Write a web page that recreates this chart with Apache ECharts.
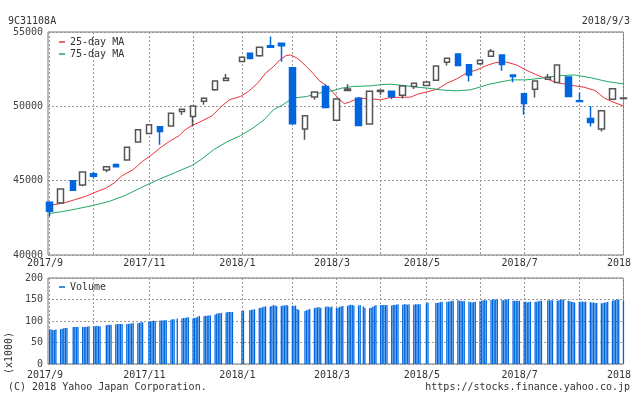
<!DOCTYPE html>
<html><head><meta charset="utf-8">
<script src="https://cdn.jsdelivr.net/npm/echarts@6/dist/echarts.min.js"></script>
<style>html,body{margin:0;padding:0;background:#fff}#c{width:634px;height:394px}</style>
</head><body><div id="c"></div>
<script>
// ---------- data ----------
const startDate = '2017-09-03';
const endDate = '2018-09-03';
const gridDates = ['2017-09-04','2017-10-02','2017-11-06','2017-12-04','2018-01-04','2018-02-05','2018-03-05','2018-04-02','2018-05-01','2018-06-04','2018-07-02','2018-08-06','2018-09-03'];
const labelDates = ['2017-09-04','2017-11-06','2018-01-04','2018-03-05','2018-05-01','2018-07-02','2018-09-03'];
// the last label is cut by the right edge of the picture in the original
const labelTexts = ['2017/9','2017/11','2018/1','2018/3','2018/5','2018/7','2018'];

const candleDates = ['2017-09-04','2017-09-11','2017-09-19','2017-09-25','2017-10-02','2017-10-10','2017-10-16','2017-10-23','2017-10-30','2017-11-06','2017-11-13','2017-11-20','2017-11-27','2017-12-04','2017-12-11','2017-12-18','2017-12-25','2018-01-04','2018-01-09','2018-01-15','2018-01-22','2018-01-29','2018-02-05','2018-02-13','2018-02-19','2018-02-26','2018-03-05','2018-03-12','2018-03-19','2018-03-26','2018-04-02','2018-04-09','2018-04-16','2018-04-23','2018-05-01','2018-05-07','2018-05-14','2018-05-21','2018-05-28','2018-06-04','2018-06-11','2018-06-18','2018-06-25','2018-07-02','2018-07-09','2018-07-17','2018-07-23','2018-07-30','2018-08-06','2018-08-13','2018-08-20','2018-08-27','2018-09-03'];
const opens  = [43545,43500,45000,44710,45470,45720,46090,46390,47600,48180,48630,48670,49650,49320,50350,51110,51740,53010,53570,53410,54080,54240,52600,48470,50620,51330,49070,51060,50550,48810,50990,51020,50750,51330,51400,51760,52970,53520,52790,52870,53370,53460,52110,50840,51155,51830,51600,51980,50370,49180,48470,50480,50530];
const closes = [42940,44440,44350,45585,45290,45940,45940,47240,48420,48760,48310,49540,49810,50030,50550,51710,51890,53300,53210,53970,53970,54080,48830,49360,50970,49920,50500,51170,48710,51020,51090,50660,51360,51560,51645,52720,53235,52740,52110,53100,53705,52810,52000,50190,51710,51960,52785,50660,50320,48910,49700,51175,50560];
const lows   = [42600,43480,44330,44620,45150,45560,45880,46380,47590,48150,47420,48660,49410,48650,50100,51040,51720,53000,53200,53340,53960,53000,48820,47750,50440,49910,49060,51050,48700,48800,50770,50480,50520,51170,51390,51750,52740,52730,51670,52790,53360,52400,51620,49430,50590,51820,51590,50650,50310,48645,48310,50470,50520];
const highs  = [43560,44460,45020,45600,45600,45950,46150,47250,48430,48770,48650,49550,49830,50050,50570,51720,52180,53310,53580,53980,54690,54260,52610,49370,50980,51490,50510,51490,50620,51030,51100,51030,51370,51570,51650,52730,53250,53530,52800,53110,53860,53470,52120,50850,51720,52180,52790,51990,50930,50030,49710,51180,50570];

const ma25Dates = ['2017-09-04','2017-09-13','2017-09-20','2017-09-27','2017-10-03','2017-10-10','2017-10-15','2017-10-20','2017-10-27','2017-11-02','2017-11-08','2017-11-13','2017-11-19','2017-11-25','2017-11-29','2017-12-03','2017-12-09','2017-12-16','2017-12-22','2017-12-27','2018-01-03','2018-01-08','2018-01-14','2018-01-19','2018-01-24','2018-01-28','2018-02-01','2018-02-04','2018-02-08','2018-02-11','2018-02-14','2018-02-18','2018-02-22','2018-02-26','2018-03-03','2018-03-06','2018-03-10','2018-03-14','2018-03-19','2018-03-27','2018-04-02','2018-04-08','2018-04-21','2018-04-26','2018-05-02','2018-05-08','2018-05-14','2018-05-20','2018-05-27','2018-06-02','2018-06-08','2018-06-14','2018-06-21','2018-06-27','2018-07-03','2018-07-09','2018-07-15','2018-07-22','2018-07-28','2018-08-03','2018-08-09','2018-08-16','2018-08-22','2018-08-28','2018-09-03'];
const ma25 = [43340,43500,43720,43950,44220,44510,44850,45340,45740,46300,46750,47200,47640,48020,48420,48690,48980,49360,49990,50440,50660,50990,51560,52230,52670,53120,53410,53460,53240,52970,52670,52230,51730,51440,50930,50550,50170,50320,50550,50500,50440,50590,50620,50840,50990,51160,51560,51830,52270,52450,52740,52940,52970,52790,52450,52160,51890,51620,51490,51380,51290,51060,50550,50260,50030];

const ma75Dates = ['2017-09-04','2017-09-13','2017-09-21','2017-10-02','2017-10-12','2017-10-22','2017-11-02','2017-11-12','2017-11-23','2017-12-03','2017-12-09','2017-12-17','2017-12-26','2018-01-03','2018-01-11','2018-01-18','2018-01-24','2018-01-30','2018-02-05','2018-02-14','2018-02-22','2018-03-03','2018-03-08','2018-03-15','2018-03-27','2018-04-02','2018-04-08','2018-04-17','2018-04-25','2018-05-04','2018-05-12','2018-05-20','2018-05-29','2018-06-04','2018-06-10','2018-06-18','2018-06-24','2018-07-03','2018-07-13','2018-07-23','2018-08-03','2018-08-13','2018-08-24','2018-09-03'];
const ma75 = [42790,42940,43100,43340,43610,44010,44580,45070,45560,46010,46410,47080,47640,48020,48540,49090,49770,50100,50550,50660,50890,51060,51220,51330,51380,51460,51490,51400,51290,51200,51090,51040,51110,51300,51490,51660,51780,51780,51890,52050,52110,51930,51660,51510];

const holidays = ['2017-09-18','2017-10-09','2017-11-03','2017-11-23','2018-01-01','2018-01-02','2018-01-03','2018-01-08','2018-02-12','2018-03-21','2018-04-30','2018-05-03','2018-05-04','2018-07-16'];
// daily volume (x1000), one line per week
const volume = [
  81,80,79,79,80,
  81,82,83,84,84,
  86,86,86,86,
  86,86,86,87,88,
  88,88,89,88,88,
  90,91,91,91,
  92,93,93,93,93,
  93,93,94,94,96,
  95,96,97,97,
  98,99,100,101,100,
  101,101,102,102,102,
  103,104,104,106,
  106,107,107,108,109,
  106,107,108,110,112,
  111,112,112,113,113,
  115,117,118,118,119,
  120,121,121,121,121,
  123,124,
  125,126,127,127,
  130,131,132,133,134,
  134,135,137,136,135,
  135,136,136,137,136,
  136,135,136,128,126,
  123,125,126,128,
  130,131,132,132,131,
  133,134,133,132,134,
  130,131,133,134,135,
  135,137,138,137,136,
  136,137,134,131,
  130,131,133,135,137,
  137,137,137,137,137,
  136,137,138,138,139,
  138,139,139,138,139,
  138,139,139,139,139,
  141,143,
  142,142,143,144,145,
  145,145,146,147,147,
  148,147,147,146,147,
  145,144,143,144,145,
  146,147,148,148,148,
  149,150,150,150,150,
  149,148,149,150,150,
  147,147,147,147,147,
  145,145,143,144,145,
  145,145,146,147,147,
  148,148,148,148,
  147,148,149,150,150,
  147,146,145,144,143,
  145,145,145,145,145,
  144,143,143,142,142,
  141,142,143,143,144,
  147,148,149,150,150,
  147
];

// ---------- build ----------
function fmt(t){ return new Date(t).toISOString().slice(0,10); }
const DAY = 86400000;
const t0 = Date.parse(startDate + 'T00:00:00Z'), t1 = Date.parse(endDate + 'T00:00:00Z');
const allDays = [];
for (let t = t0; t <= t1; t += DAY) allDays.push(fmt(t));
const tradeDays = allDays.filter(d => {
  const wd = new Date(d + 'T00:00:00Z').getUTCDay();
  return wd >= 1 && wd <= 5 && holidays.indexOf(d) < 0;
});
const labelMap = {};
labelDates.forEach((d,i) => labelMap[d] = labelTexts[i]);

const FONT = 'DejaVu Sans Mono';
const TXT = '#333';
const BLUE = '#0066dd';
const dash = {color:'#999', type:[2,2], width:1};

function xAxisCfg(gi, margin){
  return {
    type:'category', gridIndex:gi, data:allDays, boundaryGap:false,
    axisLine:{show:false}, axisTick:{show:false},
    axisLabel:{
      interval:(i,v)=> labelMap[v] !== undefined,
      formatter:(v)=> labelMap[v] || '',
      fontFamily:FONT, fontSize:10, color:TXT, margin:margin,
      padding:[0,9,0,0], alignMinLabel:'center', alignMaxLabel:'center', hideOverlap:false
    },
    splitLine:{show:true, interval:(i,v)=> gridDates.indexOf(v) >= 0, lineStyle:dash}
  };
}
function yAxisCfg(gi, min, max, interval){
  return {
    type:'value', gridIndex:gi, min:min, max:max, interval:interval,
    axisLine:{show:false}, axisTick:{show:false},
    axisLabel:{fontFamily:FONT, fontSize:10, color:'#444', margin:5, formatter:(v)=> String(v)},
    splitLine:{show:true, lineStyle:dash}
  };
}

const chart = echarts.init(document.getElementById('c'), null, {renderer:'canvas'});
chart.setOption({
  animation:false,
  backgroundColor:'#fff',
  grid:[
    {left:48, top:32, width:583, height:223, show:true, borderColor:'#777', borderWidth:1, backgroundColor:'transparent'},
    {left:48, top:278, width:583, height:86, show:true, borderColor:'#777', borderWidth:1, backgroundColor:'transparent'}
  ],
  xAxis:[xAxisCfg(0,3), xAxisCfg(1,6)],
  yAxis:[yAxisCfg(0,40000,55000,5000), yAxisCfg(1,0,200,50)],
  legend:[
    {data:['25-day MA','75-day MA'], left:59, top:36, padding:0, orient:'vertical', icon:'rect', itemWidth:6, itemHeight:1.5, itemGap:0, selectedMode:false,
     textStyle:{fontFamily:FONT, fontSize:10, color:TXT, lineHeight:12}},
    {data:['Volume'], left:59, top:281, padding:0, orient:'vertical', icon:'rect', itemWidth:6, itemHeight:1.5, itemGap:0, selectedMode:false,
     textStyle:{fontFamily:FONT, fontSize:10, color:TXT, lineHeight:12}}
  ],
  series:[
    {name:'25-day MA', type:'line', xAxisIndex:0, yAxisIndex:0, showSymbol:false, symbol:'none', z:2,
     data:ma25Dates.map((d,i)=>[d, ma25[i]]), lineStyle:{color:'#e8323a', width:1}, itemStyle:{color:'#e8323a'}},
    {name:'75-day MA', type:'line', xAxisIndex:0, yAxisIndex:0, showSymbol:false, symbol:'none', z:2,
     data:ma75Dates.map((d,i)=>[d, ma75[i]]), lineStyle:{color:'#22a565', width:1}, itemStyle:{color:'#22a565'}},
    {name:'Price', type:'candlestick', xAxisIndex:0, yAxisIndex:0, z:3, barWidth:6,
     encode:{x:0, y:[1,2,3,4]},
     data:candleDates.map((d,i)=>[d, opens[i], closes[i], lows[i], highs[i]]),
     itemStyle:{color:'#fff', color0:BLUE, borderColor:'#555', borderColor0:BLUE, borderWidth:1.5}},
    {name:'Volume', type:'bar', xAxisIndex:1, yAxisIndex:1, barWidth:1.3,
     data:tradeDays.map((d,i)=>[d, volume[i]]), itemStyle:{color:BLUE}}
  ],
  graphic:[
    {type:'text', x:8, y:21, style:{text:'9C31108A', fill:TXT, font:'10px "'+FONT+'"', align:'left', verticalAlign:'middle'}},
    {type:'text', x:630, y:21, style:{text:'2018/9/3', fill:TXT, font:'10px "'+FONT+'"', align:'right', verticalAlign:'middle'}},
    {type:'text', x:8, y:387, style:{text:'(C) 2018 Yahoo Japan Corporation.', fill:TXT, font:'10px "'+FONT+'"', align:'left', verticalAlign:'middle'}},
    {type:'text', x:630, y:387, style:{text:'https://stocks.finance.yahoo.co.jp', fill:TXT, font:'10px "'+FONT+'"', align:'right', verticalAlign:'middle'}},
    {type:'text', x:9, y:353, rotation:Math.PI/2, style:{text:'(x1000)', fill:TXT, font:'10px "'+FONT+'"', align:'center', verticalAlign:'middle'}}
  ]
});
</script>
</body></html>
